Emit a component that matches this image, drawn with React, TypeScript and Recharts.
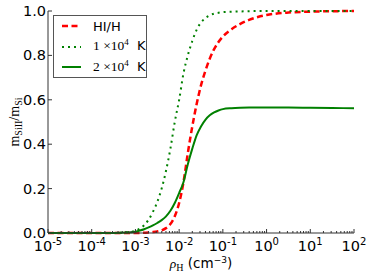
import { LineChart, Line, XAxis, YAxis, Legend } from 'recharts';

// densities (cm^-3) where the curves were sampled
const rho = [
  1e-5, 1e-4, 3.2e-4, 6.3e-4, 1e-3, 1.26e-3, 1.58e-3, 2e-3, 2.51e-3, 3.16e-3,
  3.98e-3, 5.01e-3, 6.31e-3, 7.94e-3, 1e-2, 1.26e-2, 1.58e-2, 2e-2, 2.51e-2, 3.16e-2,
  3.98e-2, 5.01e-2, 6.31e-2, 7.94e-2, 0.1, 0.158, 0.251, 0.398, 0.631, 1,
  3.16, 10, 31.6, 100,
];

// HI/H
const hiFrac = [
  0, 0, 0, 0, 0, 0, 0.001, 0.002, 0.004, 0.007,
  0.012, 0.022, 0.04, 0.075, 0.135, 0.23, 0.36, 0.48, 0.58, 0.665,
  0.73, 0.785, 0.828, 0.86, 0.885, 0.918, 0.942, 0.96, 0.973, 0.982,
  0.993, 0.997, 0.999, 1.0,
];

// 1e4 K
const t1e4 = [
  0, 0, 0, 0.003, 0.01, 0.02, 0.035, 0.06, 0.095, 0.14,
  0.2, 0.28, 0.38, 0.5, 0.6, 0.72, 0.8, 0.865, 0.915, 0.948,
  0.968, 0.98, 0.988, 0.992, 0.995, 0.997, 0.998, 0.999, 1, 1,
  1, 1, 1, 1,
];

// 2e4 K
const t2e4 = [
  0, 0, 0, 0.002, 0.006, 0.011, 0.017, 0.025, 0.034, 0.045,
  0.058, 0.075, 0.1, 0.135, 0.18, 0.23, 0.31, 0.38, 0.44, 0.48,
  0.51, 0.53, 0.543, 0.552, 0.558, 0.562, 0.564, 0.565, 0.565, 0.565,
  0.565, 0.564, 0.563, 0.562,
];

const majorTicks = [1e-5, 1e-4, 1e-3, 1e-2, 1e-1, 1, 10, 100];
const xExpLabels = ['-5', '-4', '-3', '-2', '-1', '0', '1', '2'];
const minorTicks = majorTicks.slice(0, -1).flatMap((d) => [2, 3, 4, 5, 6, 7, 8, 9].map((m) => m * d));
const allXTicks = [...majorTicks, ...minorTicks];

const yTicks = [0, 0.2, 0.4, 0.6, 0.8, 1.0];
const yTickLabels = ['0.0', '0.2', '0.4', '0.6', '0.8', '1.0'];

const series = [
  { key: 'hi', color: '#ff0000', dash: '6 3.5', width: 2.5 },
  { key: 't1', color: '#008000', dash: '2 4', width: 2 },
  { key: 't2', color: '#008000', dash: undefined, width: 2 },
];

const data = rho.map((r, i) => ({ rho: r, hi: hiFrac[i], t1: t1e4[i], t2: t2e4[i] }));

const AXIS = '#333';
const SANS = '"DejaVu Sans", sans-serif';
const SERIF = '"Liberation Serif", serif';

const isMajor = (v: number) => majorTicks.indexOf(v);

const BottomTick = ({ x, y, payload }: any) => {
  const i = isMajor(payload.value);
  return (
    <g>
      <line x1={x} x2={x} y1={y} y2={y - (i >= 0 ? 4 : 2)} stroke={AXIS} />
      {i >= 0 && (
        <text x={x} y={y + 18} textAnchor="middle" fontSize={14.5} fontFamily={SANS} fill="#000">
          10<tspan dy={-6} fontSize={10}>{xExpLabels[i]}</tspan>
        </text>
      )}
    </g>
  );
};

const TopTick = ({ x, y, payload }: any) => {
  const i = isMajor(payload.value);
  return <line x1={x} x2={x} y1={y} y2={y + (i >= 0 ? 4 : 2)} stroke={AXIS} />;
};

const LeftTick = ({ x, y, payload }: any) => (
  <g>
    <line x1={x} x2={x + 4} y1={y} y2={y} stroke={AXIS} />
    <text x={x - 2} y={y + 5} textAnchor="end" fontSize={14.5} fontFamily={SANS} fill="#000">
      {yTickLabels[yTicks.indexOf(payload.value)]}
    </text>
  </g>
);

const RightTick = ({ x, y }: any) => <line x1={x} x2={x - 4} y1={y} y2={y} stroke={AXIS} />;

const XLabel = ({ viewBox }: any) => {
  const cx = viewBox.x + viewBox.width / 2;
  return (
    <text x={cx} y={viewBox.y + 35} textAnchor="middle" fontSize={13.5} fill="#000">
      <tspan fontFamily={SERIF} fontStyle="italic">ρ</tspan>
      <tspan fontFamily={SERIF} fontSize={10} dy={3}>H</tspan>
      <tspan fontFamily={SANS} dy={-3}> (cm</tspan>
      <tspan fontFamily={SANS} fontSize={9} dy={-5}>−3</tspan>
      <tspan fontFamily={SANS} dy={5}>)</tspan>
    </text>
  );
};

const YLabel = ({ viewBox }: any) => {
  const cx = 19;
  const cy = viewBox.y + viewBox.height / 2;
  return (
    <text x={cx} y={cy} textAnchor="middle" fontSize={14} fontFamily={SERIF} fill="#000" transform={`rotate(-90, ${cx}, ${cy})`}>
      m<tspan fontSize={10} dy={3}>SiII</tspan>
      <tspan dy={-3}>/m</tspan>
      <tspan fontSize={10} dy={3}>Si</tspan>
    </text>
  );
};

const Temp = ({ lead }: { lead: string }) => (
  <span style={{ whiteSpace: 'nowrap' }}>
    <span style={{ fontFamily: SERIF, fontSize: 13.5 }}>
      {lead} ×10<span style={{ fontSize: 9, position: 'relative', top: -5 }}>4</span>
    </span>
    <span style={{ fontFamily: SANS }}>&nbsp;&nbsp;K</span>
  </span>
);

const legendNames: Record<string, any> = {
  hi: <span style={{ fontFamily: SANS }}>HI/H</span>,
  t1: <Temp lead="1" />,
  t2: <Temp lead="2" />,
};

const LegendBox = () => (
  <div
    style={{
      boxSizing: 'border-box',
      border: '1px solid #555',
      background: '#fff',
      padding: '0 0 0 8px',
      width: 94,
      height: 63,
    }}
  >
    {series.map((s) => (
      <div key={s.key} style={{ display: 'flex', alignItems: 'center', height: 20.6, fontSize: 13, lineHeight: '13px' }}>
        <svg width={19} height={10} style={{ marginRight: 12, flex: 'none' }}>
          <line x1={0} x2={19} y1={5} y2={5} stroke={s.color} strokeWidth={s.width} strokeDasharray={s.dash} />
        </svg>
        {legendNames[s.key]}
      </div>
    ))}
  </div>
);

export default function App() {
  return (
    <div style={{ position: 'absolute', left: 0, top: 0, background: '#fff' }}>
      <LineChart width={374} height={276} data={data} margin={{ top: 11, right: 20, bottom: 13, left: 0 }}>
        <XAxis
          dataKey="rho"
          type="number"
          scale="log"
          domain={[1e-5, 100]}
          allowDataOverflow
          ticks={allXTicks}
          interval={0}
          height={30}
          tickSize={0}
          tickMargin={0}
          tickLine={false}
          axisLine={{ stroke: AXIS }}
          tick={<BottomTick />}
          label={<XLabel />}
        />
        <XAxis
          xAxisId="top"
          orientation="top"
          dataKey="rho"
          type="number"
          scale="log"
          domain={[1e-5, 100]}
          allowDataOverflow
          ticks={allXTicks}
          interval={0}
          height={0}
          tickSize={0}
          tickMargin={0}
          tickLine={false}
          axisLine={{ stroke: AXIS }}
          tick={<TopTick />}
        />
        <YAxis
          type="number"
          domain={[0, 1]}
          ticks={yTicks}
          interval={0}
          width={48}
          tickSize={0}
          tickMargin={0}
          tickLine={false}
          axisLine={{ stroke: AXIS }}
          tick={<LeftTick />}
          label={<YLabel />}
        />
        <YAxis
          yAxisId="right"
          orientation="right"
          type="number"
          domain={[0, 1]}
          ticks={yTicks}
          interval={0}
          width={0}
          tickSize={0}
          tickMargin={0}
          tickLine={false}
          axisLine={{ stroke: AXIS }}
          tick={<RightTick />}
        />
        <Legend
          layout="horizontal"
          verticalAlign="middle"
          content={<LegendBox />}
          wrapperStyle={{ left: 53, top: 15, width: 'auto' }}
        />
        {series.map((s) => (
          <Line
            key={s.key}
            dataKey={s.key}
            type="monotone"
            stroke={s.color}
            strokeWidth={s.width}
            strokeDasharray={s.dash}
            dot={false}
            activeDot={false}
            isAnimationActive={false}
          />
        ))}
      </LineChart>
    </div>
  );
}
